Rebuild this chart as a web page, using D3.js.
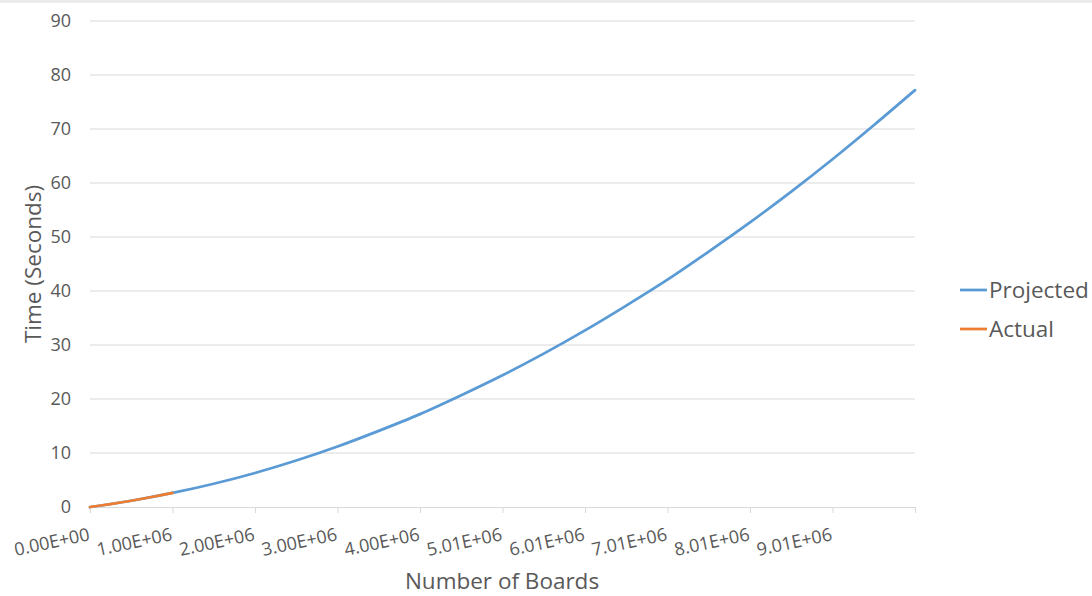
<!DOCTYPE html>
<html>
<head>
<meta charset="utf-8">
<script src="https://cdn.jsdelivr.net/npm/d3@7"></script>
<style>
  html, body { margin: 0; padding: 0; background: #fff; }
  svg { display: block; }
  text { font-family: "Open Sans", "Noto Sans", sans-serif; fill: #595959; }
</style>
</head>
<body>
<svg id="chart" width="1092" height="596"></svg>
<script>
// ---- data ----
// boards in millions, time in seconds
const projectedBoards = [0, 0.5, 1, 1.5, 2, 2.5, 3, 3.5, 4, 4.5, 5, 5.5, 6, 6.5, 7, 7.5, 8, 8.5, 9, 9.5, 10];
const projectedTime   = [0, 1.16, 2.6, 4.3, 6.3, 8.6, 11.2, 14.1, 17.2, 20.7, 24.4, 28.4, 32.7, 37.3, 42.1, 47.3, 52.7, 58.4, 64.4, 70.7, 77.2];
const actualBoards = [0, 0.25, 0.5, 0.75, 1.0];
const actualTime   = [0, 0.55, 1.16, 1.85, 2.6];
const xTickLabels = ["0.00E+00", "1.00E+06", "2.00E+06", "3.00E+06", "4.00E+06", "5.01E+06", "6.01E+06", "7.01E+06", "8.01E+06", "9.01E+06"];
const yTicks = [0, 10, 20, 30, 40, 50, 60, 70, 80, 90];
const seriesNames = ["Projected", "Actual"];
const seriesColors = ["#5b9bd5", "#ed7d31"];

const svg = d3.select("#chart");
const W = 1092, H = 596;
const mLeft = 90, mRight = 915, mTop = 21, mBottom = 507;
const FONT = '"Open Sans", "Noto Sans", sans-serif';

// top strip
svg.append("rect").attr("x", 0).attr("y", 0).attr("width", W).attr("height", 3).attr("fill", "#ececec");

const x = d3.scaleLinear().domain([0, 10]).range([mLeft, mRight]);
const y = d3.scaleLinear().domain([0, 90]).range([mBottom, mTop]);

// gridlines
svg.append("g")
  .selectAll("line")
  .data(yTicks.filter(d => d !== 0))
  .join("line")
  .attr("x1", mLeft).attr("x2", mRight)
  .attr("y1", d => y(d)).attr("y2", d => y(d))
  .attr("stroke", "#d9d9d9").attr("stroke-width", 1);

// y axis labels
const yAxis = d3.axisLeft(y).tickValues(yTicks).tickSize(0).tickPadding(19).tickFormat(d3.format("d"));
const gy = svg.append("g").attr("transform", `translate(${mLeft},0)`).call(yAxis);
gy.select(".domain").remove();
gy.selectAll("text").style("font-size", "18px").attr("fill", "#595959")
  .style("font-family", FONT);

// x axis
const xTickVals = d3.range(0, 11);
const xAxis = d3.axisBottom(x).tickValues(xTickVals).tickSize(6).tickSizeOuter(0)
  .tickFormat(d => xTickLabels[d] || "");
const gx = svg.append("g").attr("transform", `translate(0,${mBottom})`).call(xAxis);
gx.select(".domain").attr("stroke", "#d9d9d9");
gx.selectAll(".tick line").attr("stroke", "#d9d9d9");
gx.selectAll("text")
  .style("font-size", "18px")
  .style("font-family", FONT)
  .attr("fill", "#595959")
  .attr("text-anchor", "end")
  .attr("dy", null)
  .attr("y", 0)
  .attr("transform", "translate(0,33) rotate(-12)");

// lines
const line = d3.line().x(d => x(d[0])).y(d => y(d[1])).curve(d3.curveCatmullRom.alpha(0.5));
const projected = projectedBoards.map((b, i) => [b, projectedTime[i]]);
const actual = actualBoards.map((b, i) => [b, actualTime[i]]);

svg.append("path").datum(projected).attr("d", line)
  .attr("fill", "none").attr("stroke", seriesColors[0]).attr("stroke-width", 2.75).attr("stroke-linecap", "round");
svg.append("path").datum(actual).attr("d", line)
  .attr("fill", "none").attr("stroke", seriesColors[1]).attr("stroke-width", 2.75).attr("stroke-linecap", "round");

// axis titles
svg.append("text")
  .attr("transform", `translate(41,264) rotate(-90)`)
  .attr("text-anchor", "middle")
  .style("font-size", "22.5px")
  .text("Time (Seconds)");
svg.append("text")
  .attr("x", 502).attr("y", 589)
  .attr("text-anchor", "middle")
  .style("font-size", "22.5px")
  .text("Number of Boards");

// legend
const legY = [290, 329];
const lg = svg.append("g");
seriesNames.forEach((name, i) => {
  lg.append("line")
    .attr("x1", 960).attr("x2", 987)
    .attr("y1", legY[i]).attr("y2", legY[i])
    .attr("stroke", seriesColors[i]).attr("stroke-width", 2.75);
  lg.append("text")
    .attr("x", 989).attr("y", legY[i] + 8)
    .style("font-size", "22.5px")
    .text(name);
});
</script>
</body>
</html>
